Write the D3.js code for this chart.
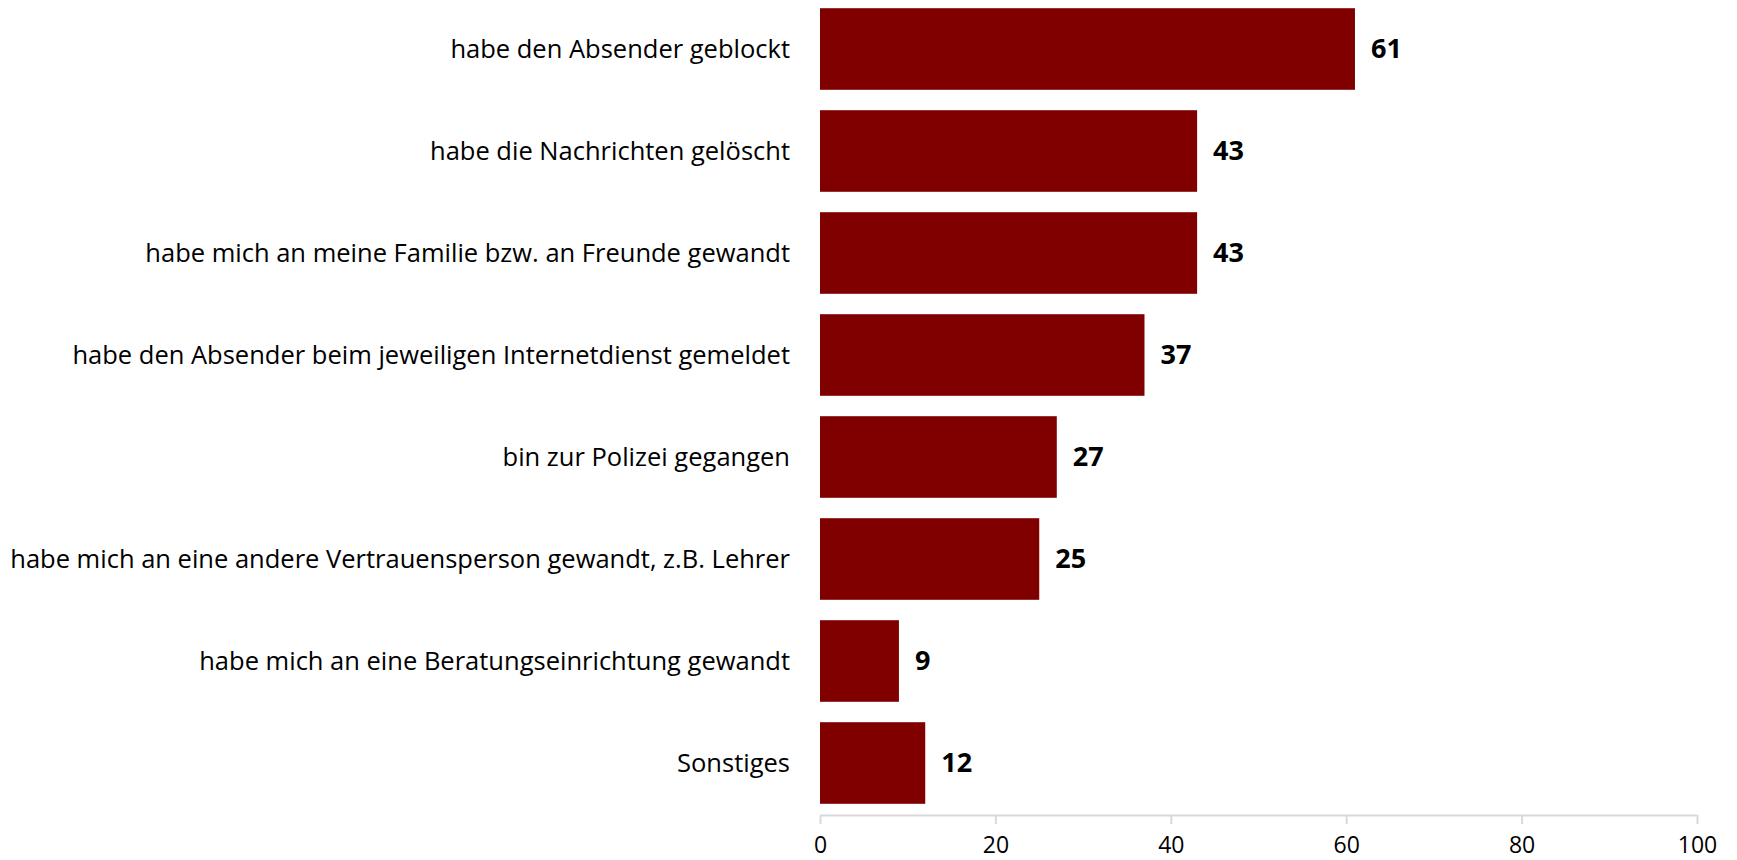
<!DOCTYPE html>
<html>
<head>
<meta charset="utf-8">
<script src="https://cdn.jsdelivr.net/npm/d3@7"></script>
<style>
  html, body { margin: 0; padding: 0; background: #fff; }
  svg { display: block; font-family: "Open Sans", sans-serif; }
</style>
</head>
<body>
<div id="chart"></div>
<script>
// Reaktionen auf Belästigung im Netz (Angaben in %)
const categories = [
    "habe den Absender geblockt",
    "habe die Nachrichten gelöscht",
    "habe mich an meine Familie bzw. an Freunde gewandt",
    "habe den Absender beim jeweiligen Internetdienst gemeldet",
    "bin zur Polizei gegangen",
    "habe mich an eine andere Vertrauensperson gewandt, z.B. Lehrer",
    "habe mich an eine Beratungseinrichtung gewandt",
    "Sonstiges"
];
const values = [61, 43, 43, 37, 27, 25, 9, 12];
const xTicks = [0, 20, 40, 60, 80, 100];

const width = 1737;
const height = 860;
const barColor = "#800000";

const svg = d3.select("#chart").append("svg")
    .attr("width", width)
    .attr("height", height);

const x = d3.scaleLinear()
    .domain([0, 100])
    .range([820, 1697]);

const y = d3.scaleBand()
    .domain(categories)
    .range([-2, 814])
    .paddingInner(0.2)
    .paddingOuter(0.1);

const axisY = 815;

// x axis
const xAxis = svg.append("g")
    .attr("transform", `translate(0,${axisY})`)
    .call(d3.axisBottom(x).tickValues(xTicks).tickSize(9).tickSizeOuter(0).tickFormat(d3.format("d")));

xAxis.select(".domain").attr("stroke", "#d9d9d9").attr("stroke-width", 2);
xAxis.selectAll(".tick line").attr("stroke", "#d9d9d9").attr("stroke-width", 2);
xAxis.selectAll(".tick text")
    .attr("y", 38)
    .attr("dy", 0)
    .attr("fill", "#000")
    .style("font-family", "'Open Sans', sans-serif")
    .style("font-size", "23px");

// bars
svg.selectAll(".bar")
    .data(values)
    .enter().append("rect")
    .attr("class", "bar")
    .attr("x", x(0))
    .attr("y", (d, i) => y(categories[i]))
    .attr("width", d => x(d) - x(0))
    .attr("height", y.bandwidth())
    .attr("fill", barColor);

// category labels
svg.selectAll(".cat")
    .data(categories)
    .enter().append("text")
    .attr("class", "cat")
    .attr("x", x(0) - 30)
    .attr("y", d => y(d) + y.bandwidth() / 2)
    .attr("dy", "0.35em")
    .attr("text-anchor", "end")
    .style("font-size", "25.5px")
    .attr("fill", "#000")
    .text(d => d);

// value labels
svg.selectAll(".val")
    .data(values)
    .enter().append("text")
    .attr("class", "val")
    .attr("x", d => x(d) + 16)
    .attr("y", (d, i) => y(categories[i]) + y.bandwidth() / 2)
    .attr("dy", "0.35em")
    .style("font-size", "27px")
    .style("font-weight", "bold")
    .attr("fill", "#000")
    .text(d => d);
</script>
</body>
</html>
